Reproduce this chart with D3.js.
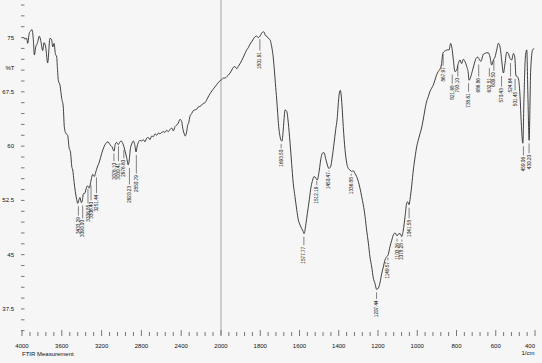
<!DOCTYPE html>
<html>
<head>
<meta charset="utf-8">
<script src="https://cdn.jsdelivr.net/npm/d3@7"></script>
<style>
  body { margin: 0; background: #f6f6f6; }
  svg { display: block; font-family: "Liberation Sans", Arial, sans-serif; }
</style>
</head>
<body>
<div id="chart"></div>
<script>
// FTIR spectrum: wavenumber (1/cm) and transmittance (%T)
var wavenumber = [3987, 3970, 3953, 3943, 3927, 3913, 3900, 3886, 3876, 3862, 3846, 3826, 3812, 3792, 3779, 3762, 3742, 3719, 3702, 3691,
  3678, 3665, 3651, 3645, 3635, 3618, 3601, 3585, 3575, 3561, 3541, 3528, 3511, 3500, 3490, 3477, 3464, 3450, 3440, 3427,
  3417, 3404, 3394, 3384, 3367, 3354, 3340, 3324, 3310, 3289, 3273, 3259, 3243, 3223, 3199, 3176, 3156, 3136, 3116, 3095,
  3075, 3062, 3048, 3032, 3015, 3002, 2988, 2975, 2962, 2948, 2932, 2922, 2912, 2897, 2881, 2867, 2854, 2844, 2831, 2814,
  2797, 2781, 2764, 2747, 2731, 2714, 2696, 2680, 2663, 2646, 2630, 2613, 2596, 2580, 2563, 2546, 2530, 2513, 2496, 2479,
  2462, 2445, 2429, 2412, 2395, 2385, 2372, 2359, 2345, 2335, 2325, 2312, 2295, 2278, 2261, 2244, 2228, 2211, 2193, 2177,
  2160, 2144, 2121, 2088, 2054, 2020, 1996, 1988, 1980, 1971, 1963, 1954, 1945, 1937, 1929, 1920, 1912, 1903, 1895, 1886,
  1878, 1869, 1861, 1852, 1844, 1835, 1827, 1818, 1810, 1801, 1793, 1784, 1779, 1774, 1767, 1759, 1750, 1745, 1740, 1734,
  1728, 1723, 1716, 1711, 1706, 1699, 1694, 1689, 1683, 1677, 1674, 1665, 1657, 1648, 1640, 1632, 1623, 1614, 1606, 1597,
  1589, 1581, 1577, 1567, 1560, 1550, 1541, 1533, 1526, 1517, 1510, 1499, 1492, 1484, 1475, 1467, 1458, 1450, 1441, 1433,
  1424, 1416, 1407, 1402, 1397, 1392, 1387, 1382, 1377, 1368, 1359, 1351, 1343, 1334, 1326, 1317, 1309, 1300, 1292, 1283,
  1275, 1266, 1258, 1249, 1241, 1232, 1224, 1215, 1207, 1198, 1190, 1181, 1173, 1164, 1156, 1148, 1139, 1130, 1122, 1113,
  1103, 1094, 1087, 1079, 1071, 1062, 1054, 1049, 1042, 1037, 1028, 1020, 1011, 1003, 995, 986, 978, 970, 961, 953,
  944, 936, 927, 919, 910, 902, 893, 885, 876, 871, 866, 855, 847, 838, 830, 823, 816, 808, 799, 791,
  782, 774, 765, 757, 748, 740, 737, 718, 711, 701, 692, 684, 676, 663, 655, 646, 638, 629, 621, 612,
  604, 595, 587, 578, 570, 561, 553, 544, 536, 527, 519, 510, 503, 497, 490, 483, 476, 470, 462, 456,
  449, 442, 436, 430, 422, 412, 404];
var transmittance = [75.0, 74.8, 74.9, 74.2, 75.6, 75.9, 76.1, 74.7, 72.6, 73.7, 74.2, 75.2, 74.6, 73.2, 74.3, 73.7, 71.5, 74.9, 74.7, 73.7,
  74.2, 72.8, 72.3, 71.0, 69.1, 68.4, 66.6, 65.4, 62.7, 61.8, 61.5, 59.9, 59.0, 57.2, 56.7, 55.1, 53.7, 52.6, 52.1, 52.6,
  52.9, 52.2, 52.4, 53.4, 53.5, 54.2, 54.5, 54.2, 55.0, 56.1, 55.8, 56.4, 57.1, 57.8, 59.0, 59.9, 60.4, 60.6, 60.2, 59.9,
  59.3, 60.3, 60.5, 60.2, 60.6, 60.7, 60.4, 59.9, 59.2, 58.4, 57.4, 58.1, 59.5, 60.3, 60.7, 60.2, 59.2, 59.9, 60.5, 60.8,
  60.7, 60.9, 60.6, 61.1, 61.2, 60.9, 61.4, 61.3, 61.7, 61.5, 61.8, 61.7, 61.9, 62.0, 61.9, 62.2, 62.0, 62.3, 62.5, 62.1,
  62.7, 62.9, 63.2, 63.7, 63.4, 62.5, 61.8, 61.4, 62.0, 62.9, 63.2, 64.1, 64.5, 64.9, 65.0, 65.1, 65.4, 65.5, 65.7, 65.9,
  66.0, 66.4, 67.0, 67.7, 68.3, 68.9, 69.2, 69.4, 69.4, 69.6, 69.8, 70.1, 70.5, 70.9, 71.0, 70.7, 71.0, 71.4, 71.8, 72.3,
  72.8, 73.3, 73.6, 74.1, 74.4, 74.8, 75.1, 75.2, 75.0, 75.2, 75.6, 75.8, 75.7, 75.3, 75.2, 74.9, 74.7, 74.2, 73.5, 72.3,
  70.5, 68.7, 66.4, 64.5, 62.7, 61.3, 60.8, 60.7, 62.2, 64.3, 65.0, 64.8, 63.2, 60.4, 57.6, 54.9, 53.0, 51.2, 49.8, 49.1,
  48.6, 48.2, 47.9, 49.3, 50.7, 52.6, 54.4, 55.3, 55.8, 55.6, 55.3, 56.7, 58.1, 59.0, 59.1, 58.3, 57.4, 56.9, 57.2, 58.5,
  60.4, 62.2, 64.1, 66.0, 67.3, 67.7, 66.9, 65.0, 62.7, 59.5, 57.6, 56.9, 56.7, 56.5, 56.6, 56.2, 55.8, 55.1, 54.2, 53.0,
  51.9, 50.3, 48.4, 46.6, 44.7, 43.3, 41.8, 41.0, 40.2, 40.4, 41.1, 42.4, 43.3, 44.3, 44.7, 45.0, 46.1, 47.0, 47.7, 48.0,
  47.6, 47.9, 47.9, 47.5, 48.4, 50.3, 52.1, 52.3, 51.9, 52.6, 54.6, 56.7, 58.5, 59.9, 60.8, 61.7, 62.5, 63.6, 65.0, 66.1,
  66.8, 67.5, 68.0, 68.4, 69.1, 69.8, 70.3, 70.6, 71.4, 72.6, 73.0, 73.2, 73.3, 73.3, 74.2, 73.5, 71.9, 70.3, 70.5, 71.4,
  71.9, 71.4, 72.0, 71.7, 71.0, 70.1, 69.1, 70.5, 71.2, 72.1, 72.3, 72.0, 71.7, 72.7, 72.8, 72.9, 72.9, 72.3, 71.2, 71.9,
  72.3, 73.3, 74.2, 73.7, 71.9, 70.1, 71.4, 73.0, 72.8, 72.1, 71.9, 72.8, 72.3, 69.7, 69.6, 69.1, 66.8, 63.2, 60.4, 66.8,
  72.3, 73.3, 66.8, 60.8, 70.5, 73.3, 73.5];

// peak annotations: wavenumber, %T at the band, %T where the label starts
var peakWn = [3433.29, 3390.00, 3336.85, 3306.40, 3251.44, 3076.10, 3030.41, 2976.60, 2920.23, 2850.79,
  1801.91, 1693.50, 1577.77, 1512.19, 1450.47, 1336.88, 1207.44, 1149.57, 1103.26, 1078.28, 1041.58,
  867.97, 821.68, 793.10, 738.61, 686.86, 632.51, 609.50, 570.43, 524.64, 501.45, 459.06, 430.20];
var peakT = [52.1, 52.2, 54.5, 55.0, 56.1, 59.4, 60.4, 59.9, 57.4, 59.2,
  75.2, 60.7, 47.9, 55.6, 56.9, 56.6, 40.2, 45.0, 47.6, 47.5, 51.9,
  73.1, 70.3, 71.5, 69.1, 71.7, 71.2, 72.3, 70.1, 71.9, 69.7, 60.4, 60.8];
var peakLabelT = [50.2, 49.8, 51.9, 52.3, 53.3, 57.7, 57.7, 58.1, 54.5, 56.0,
  73.0, 59.5, 46.1, 54.4, 56.4, 55.7, 38.7, 44.0, 46.6, 46.6, 49.8,
  70.9, 68.4, 69.4, 67.3, 69.4, 69.4, 70.2, 68.0, 69.4, 67.5, 58.5, 58.8];

var xTicks = [4000, 3600, 3200, 2800, 2400, 2000, 1800, 1600, 1400, 1200, 1000, 800, 600, 400];
var yTicks = [37.5, 45, 52.5, 60, 67.5, 75];

var width = 542, height = 363;

var svg = d3.select("#chart").append("svg")
    .attr("width", width)
    .attr("height", height);

// instrument axis: 4000-2000 is compressed to half the scale of 2000-400
var xScale = d3.scaleLinear()
    .domain([4000, 2000, 400])
    .range([22, 221, 535]);

var yScale = d3.scaleLinear()
    .domain([33.9, 79.5])
    .range([335, 5]);

var left = xScale(4000), right = xScale(400), top = yScale(79.5), bottom = yScale(33.9);

// divider at 2000
svg.append("line")
    .attr("x1", xScale(2000)).attr("x2", xScale(2000))
    .attr("y1", top).attr("y2", bottom)
    .attr("stroke", "#b4b4b4")
    .attr("stroke-width", 1.2);

// frame
svg.append("rect")
    .attr("x", left).attr("y", top)
    .attr("width", right - left).attr("height", bottom - top)
    .attr("fill", "none")
    .attr("stroke", "#555")
    .attr("stroke-width", 0.9);

// y ticks every 1.5 %T
var yMinor = d3.range(34.5, 79.6, 1.5);
svg.selectAll(".ytick")
  .data(yMinor)
  .enter()
  .append("line")
    .attr("class", "ytick")
    .attr("x1", left - 1).attr("x2", left + 2.5)
    .attr("y1", function(d) { return yScale(d); })
    .attr("y2", function(d) { return yScale(d); })
    .attr("stroke", "#555")
    .attr("stroke-width", 0.8);

svg.selectAll(".ylab")
  .data(yTicks)
  .enter()
  .append("text")
    .attr("class", "ylab")
    .attr("x", left - 8)
    .attr("y", function(d) { return yScale(d) + 2; })
    .attr("text-anchor", "end")
    .attr("font-size", 6)
    .attr("fill", "#111")
    .text(function(d) { return d; });

svg.append("text")
    .attr("x", 10).attr("y", yScale(70.8) + 2)
    .attr("text-anchor", "middle")
    .attr("font-size", 6)
    .attr("fill", "#111")
    .text("%T");

// x ticks: minor every 80 above 2000, every 40 below
var xMinor = d3.range(4000, 2000, -80).concat(d3.range(2000, 399, -40));
svg.selectAll(".xtick")
  .data(xMinor)
  .enter()
  .append("line")
    .attr("class", "xtick")
    .attr("x1", function(d) { return xScale(d); })
    .attr("x2", function(d) { return xScale(d); })
    .attr("y1", bottom + 1)
    .attr("y2", function(d) { return xTicks.indexOf(d) >= 0 ? bottom - 5 : bottom - 3; })
    .attr("stroke", "#555")
    .attr("stroke-width", 0.8);

svg.selectAll(".xlab")
  .data(xTicks)
  .enter()
  .append("text")
    .attr("class", "xlab")
    .attr("x", function(d) { return xScale(d); })
    .attr("y", bottom + 13)
    .attr("text-anchor", function(d) { return d == 400 ? "end" : "middle"; })
    .attr("font-size", 6)
    .attr("fill", "#111")
    .text(function(d) { return d; });

svg.append("text")
    .attr("x", left).attr("y", bottom + 21)
    .attr("font-size", 6)
    .attr("fill", "#111")
    .text("FTIR Measurement");

svg.append("text")
    .attr("x", right - 7).attr("y", bottom + 20)
    .attr("text-anchor", "middle")
    .attr("font-size", 6)
    .attr("fill", "#111")
    .text("1/cm");

// spectrum
var spectrum = wavenumber.map(function(d, i) { return [d, transmittance[i]]; });

var line = d3.line()
    .x(function(d) { return xScale(d[0]); })
    .y(function(d) { return yScale(d[1]); })
    .curve(d3.curveMonotoneX);

svg.append("path")
    .datum(spectrum)
    .attr("d", line)
    .attr("fill", "none")
    .attr("stroke", "#2b2b2b")
    .attr("stroke-width", 0.9);

// peak labels
var peaks = peakWn.map(function(d, i) { return {wn: d, t: peakT[i], lt: peakLabelT[i]}; });

var marks = svg.selectAll(".peak")
  .data(peaks)
  .enter()
  .append("g")
    .attr("class", "peak");

marks.append("line")
    .attr("x1", function(d) { return xScale(d.wn); })
    .attr("x2", function(d) { return xScale(d.wn); })
    .attr("y1", function(d) { return yScale(d.t) + 3; })
    .attr("y2", function(d) { return yScale(d.lt) - 1.5; })
    .attr("stroke", "#333")
    .attr("stroke-width", 0.6);

marks.append("text")
    .attr("transform", function(d) {
      return "translate(" + [xScale(d.wn) + 1.6, yScale(d.lt)] + ") rotate(-90)";
    })
    .attr("text-anchor", "end")
    .attr("font-size", 4.7)
    .attr("fill", "#111")
    .text(function(d) { return d.wn.toFixed(2); });
</script>
</body>
</html>
